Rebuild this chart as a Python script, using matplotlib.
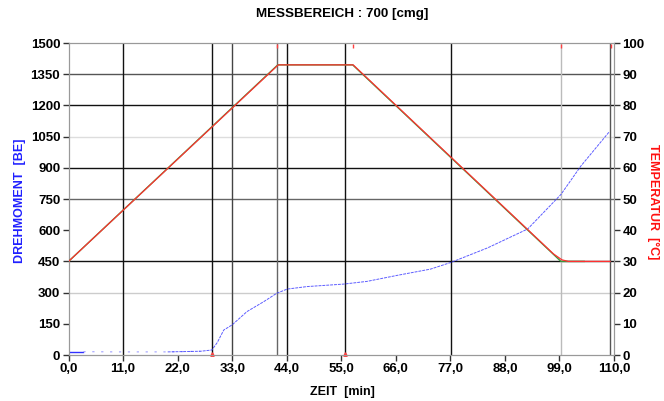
import matplotlib.pyplot as plt
import numpy as np

# torque (DREHMOMENT, BE)
t_torque = [0.0, 3.0, 10.0, 20.0, 26.6, 28.9, 30.0, 31.3, 33.0, 36.0, 39.4, 42.0, 44.1,
            48.1, 55.5, 60.2, 66.3, 73.0, 77.1, 84.5, 92.6, 99.3, 103.3, 109.0]
torque = [16, 16, 15, 15, 18, 24, 60, 120, 145, 209, 257, 297, 317,
          329, 341, 354, 383, 413, 445, 515, 606, 772, 908, 1072]

# temperature (°C), red and green traces
t_red = [0.0, 42.3, 57.4, 97.8, 99.5, 100.8, 109.2]
temp_red = [30, 93, 93, 32.4, 30.5, 30, 30]
t_green = [0.0, 42.2, 57.3, 99.3, 104.0]
temp_green = [30, 93, 93, 30, 30]

# event marks
t_top_marks = [42.1, 57.4, 99.3, 109.4]
t_bottom_marks = [28.9, 55.8]

x_ticks = [0, 11, 22, 33, 44, 55, 66, 77, 88, 99, 110]
y_ticks = [0, 150, 300, 450, 600, 750, 900, 1050, 1200, 1350, 1500]
temp_ticks = [0, 10, 20, 30, 40, 50, 60, 70, 80, 90, 100]

plt.rcParams['font.family'] = ['Liberation Sans', 'DejaVu Sans']

fig = plt.figure(figsize=(6.64, 4.01), dpi=100)
ax = fig.add_axes([0.1032, 0.1147, 0.8215, 0.778])

# horizontal lines (value, colour)
for v, c in [(1350, '#555555'), (1200, '#111111'), (1050, '#dddddd'), (900, '#111111'),
             (750, '#666666'), (450, '#111111'), (300, '#cccccc')]:
    ax.axhline(v, color=c, lw=1.0, zorder=1)

# vertical lines
for v, c in [(11, '#111111'), (28.9, '#111111'), (33, '#444444'), (42.1, '#666666'),
             (44.1, '#111111'), (55.8, '#111111'), (77.1, '#111111'), (99.3, '#bbbbbb'),
             (109.1, '#555555')]:
    ax.axvline(v, color=c, lw=1.0, zorder=1)

# torque curve: flat start faint, then dotted blue line
ax.plot(t_torque[:2], torque[:2], color='#3030ff', lw=1.0, zorder=3)
ax.plot(t_torque[1:5], torque[1:5], color='#a0a0ff', lw=0.8, ls=(0, (2, 6)), zorder=3)
ax.plot(t_torque[3:], torque[3:], color='#4040ff', lw=0.7, ls=(0, (3, 1)), alpha=0.85, zorder=3)

ax.set_xlim(0, 110)
ax.set_ylim(0, 1500)
ax.set_xticks(x_ticks)
ax.set_xticklabels([f'{v:.1f}'.replace('.', ',') for v in x_ticks])
ax.set_yticks(y_ticks)
ax.tick_params(axis='both', length=4, width=1, color='#333333', labelsize=9.5, pad=2)
for lab in ax.get_xticklabels() + ax.get_yticklabels():
    lab.set_fontweight('bold')
for s in ax.spines.values():
    s.set_color('#999999')

ax2 = ax.twinx()
ax2.set_ylim(0, 100)
ax2.set_yticks(temp_ticks)
ax2.tick_params(axis='y', length=4, width=1, color='#333333', labelsize=9.5, pad=2)
for lab in ax2.get_yticklabels():
    lab.set_fontweight('bold')
for s in ax2.spines.values():
    s.set_color('#999999')

ax2.plot(t_green, temp_green, color='#3a9a3a', lw=1.0, zorder=3)
ax2.plot(t_red, temp_red, color='#ff3030', lw=0.9, zorder=4)
ax2.plot(t_top_marks, [99] * len(t_top_marks), ls='none', marker='|', ms=3,
         color='#ff4040', clip_on=False)
ax2.plot(t_bottom_marks, [0.4] * len(t_bottom_marks), ls='none', marker='^', ms=2.5,
         color='#ff4040', clip_on=False)

fig.text(0.515, 0.965, 'MESSBEREICH : 700 [cmg]', ha='center', va='center',
         fontsize=9.6, fontweight='bold')
fig.text(0.515, 0.022, 'ZEIT  [min]', ha='center', va='center',
         fontsize=9, fontweight='bold')
fig.text(0.030, 0.499, 'DREHMOMENT  [BE]', ha='center', va='center', rotation=90,
         fontsize=9, fontweight='bold', color='#2020ff')
fig.text(0.984, 0.496, 'TEMPERATUR  [°C]', ha='center', va='center', rotation=270,
         fontsize=9, fontweight='bold', color='#ff1010')

fig.savefig('out.png', dpi=100)
